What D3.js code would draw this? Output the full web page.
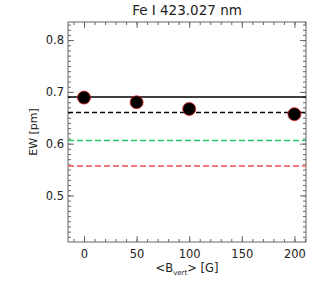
<!DOCTYPE html>
<html>
<head>
<meta charset="utf-8">
<script src="https://cdn.jsdelivr.net/npm/d3@7"></script>
<style>
  body { margin: 0; background: #fff; }
  text { font-family: "DejaVu Sans", sans-serif; fill: #222; }
</style>
</head>
<body>
<svg width="327" height="286"></svg>
<script>
// data
var bVert = [0, 50, 100, 200];
var ewValues = [0.689, 0.680, 0.667, 0.657];
var refLines = [
  { value: 0.690, color: "#000", dash: null, w: 1.5 },
  { value: 0.660, color: "#000", dash: "5,3", w: 1.5 },
  { value: 0.606, color: "#22c866", dash: "6,3", w: 1.6 },
  { value: 0.557, color: "#f07878", dash: "6,3", w: 2 }
];
var xTicks = [0, 50, 100, 150, 200];
var yTicks = [0.5, 0.6, 0.7, 0.8];

var svg = d3.select("svg");
var margin = { left: 68, right: 21, top: 22, bottom: 44 };
var width = 327, height = 286;

var x = d3.scaleLinear().domain([-15.2, 211]).range([margin.left, width - margin.right]);
var y = d3.scaleLinear().domain([0.41, 0.835]).range([height - margin.bottom, margin.top]);

var axisColor = "#666";

// frame
svg.append("rect")
  .attr("x", margin.left).attr("y", margin.top)
  .attr("width", width - margin.right - margin.left)
  .attr("height", height - margin.bottom - margin.top)
  .attr("fill", "none").attr("stroke", axisColor).attr("stroke-width", 1);

// minor ticks
var xMinor = d3.range(-10, 211, 10);
var yMinor = d3.range(0.42, 0.835, 0.01);

function tickSet(g, axis, vals, size) {
  g.call(axis.tickValues(vals).tickSize(size).tickFormat(""));
  g.select(".domain").remove();
  g.selectAll("line").attr("stroke", axisColor);
}

tickSet(svg.append("g").attr("transform", "translate(0," + (height - margin.bottom) + ")"), d3.axisTop(x), xMinor, 3);
tickSet(svg.append("g").attr("transform", "translate(0," + margin.top + ")"), d3.axisBottom(x), xMinor, 3);
tickSet(svg.append("g").attr("transform", "translate(" + margin.left + ",0)"), d3.axisRight(y), yMinor, 3);
tickSet(svg.append("g").attr("transform", "translate(" + (width - margin.right) + ",0)"), d3.axisLeft(y), yMinor, 3);

// major ticks
tickSet(svg.append("g").attr("transform", "translate(0," + (height - margin.bottom) + ")"), d3.axisTop(x), xTicks, 6);
tickSet(svg.append("g").attr("transform", "translate(0," + margin.top + ")"), d3.axisBottom(x), xTicks, 6);
tickSet(svg.append("g").attr("transform", "translate(" + margin.left + ",0)"), d3.axisRight(y), yTicks, 6);
tickSet(svg.append("g").attr("transform", "translate(" + (width - margin.right) + ",0)"), d3.axisLeft(y), yTicks, 6);

// tick labels
var xAxis = svg.append("g")
  .attr("transform", "translate(0," + (height - margin.bottom) + ")")
  .call(d3.axisBottom(x).tickValues(xTicks).tickSize(0).tickPadding(8));
xAxis.select(".domain").remove();
xAxis.selectAll("text").style("font-size", "11.5px").attr("font-family", null);

var yAxis = svg.append("g")
  .attr("transform", "translate(" + margin.left + ",0)")
  .call(d3.axisLeft(y).tickValues(yTicks).tickSize(0).tickPadding(4).tickFormat(d3.format(".1f")));
yAxis.select(".domain").remove();
yAxis.selectAll("text").style("font-size", "11.5px").attr("font-family", null);

// reference lines
svg.selectAll(".ref").data(refLines).enter().append("line")
  .attr("x1", margin.left).attr("x2", width - margin.right)
  .attr("y1", function (d) { return y(d.value); })
  .attr("y2", function (d) { return y(d.value); })
  .attr("stroke", function (d) { return d.color; })
  .attr("stroke-width", function (d) { return d.w; })
  .attr("stroke-dasharray", function (d) { return d.dash; });

// points
svg.selectAll(".pt").data(bVert).enter().append("circle")
  .attr("cx", function (d) { return x(d); })
  .attr("cy", function (d, i) { return y(ewValues[i]); })
  .attr("r", 6.5)
  .attr("fill", "#000")
  .attr("stroke", "#e02020")
  .attr("stroke-width", 0.8);

// title
svg.append("text")
  .attr("x", (margin.left + width - margin.right) / 2).attr("y", 15)
  .attr("text-anchor", "middle").style("font-size", "13.5px")
  .text("Fe I 423.027 nm");

// axis labels
svg.append("text")
  .attr("transform", "translate(37," + ((margin.top + height - margin.bottom) / 2) + ") rotate(-90)")
  .attr("text-anchor", "middle").style("font-size", "11px")
  .text("EW [pm]");

var xl = svg.append("text")
  .attr("x", (margin.left + width - margin.right) / 2).attr("y", 272)
  .attr("text-anchor", "middle").style("font-size", "11.5px");
xl.append("tspan").text("<B");
xl.append("tspan").attr("dy", 3).style("font-size", "7px").text("vert");
xl.append("tspan").attr("dy", -3).text("> [G]");
</script>
</body>
</html>
